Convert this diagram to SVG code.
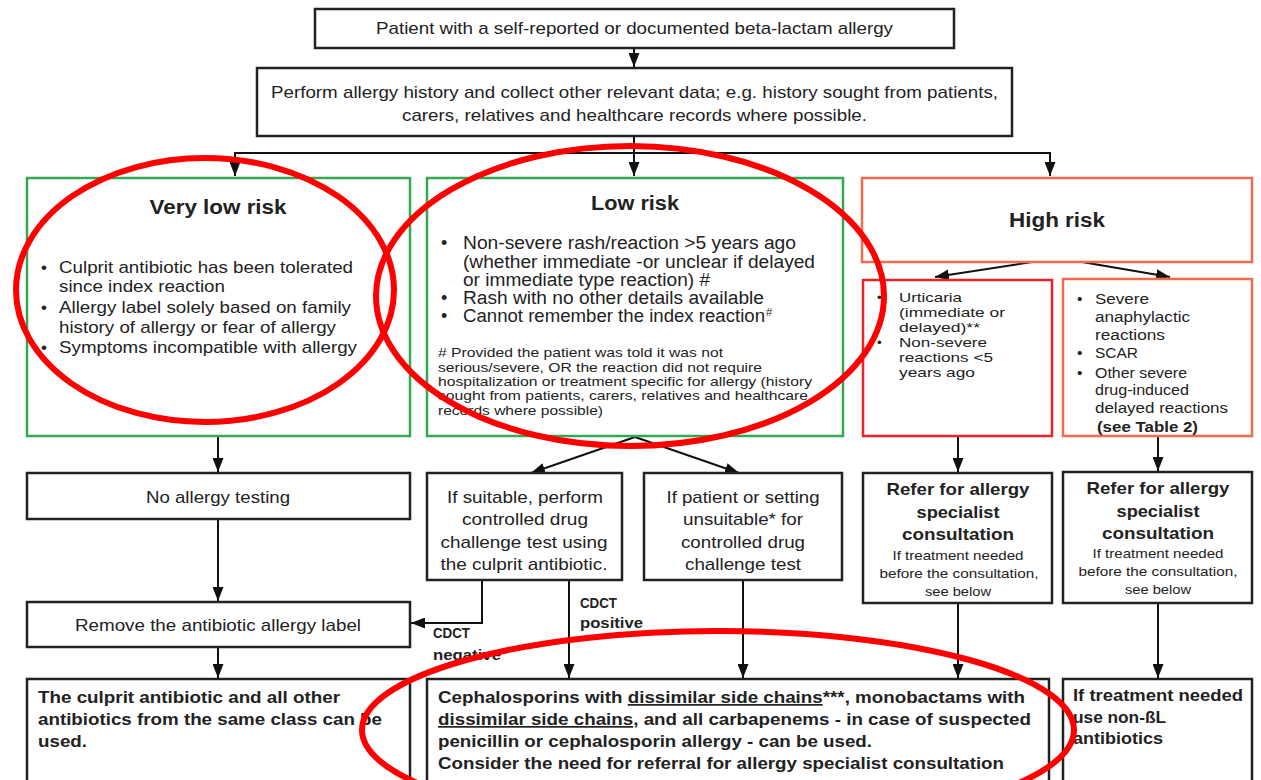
<svg xmlns="http://www.w3.org/2000/svg" width="1261" height="780" viewBox="0 0 1261 780">
<defs>
<marker id="arr" markerUnits="userSpaceOnUse" markerWidth="14" markerHeight="11" viewBox="0 0 14 11" refX="14" refY="5.5" orient="auto">
<path d="M0,0 L14,5.5 L0,11 z" fill="#111"/>
</marker>
<style>
text{font-family:"Liberation Sans",Arial,sans-serif;fill:#222;}
.box{fill:#fff;stroke:#222;stroke-width:2.5;}
.green{fill:#fff;stroke:#34a853;stroke-width:2.5;}
.orange{fill:#fff;stroke:#f26a4f;stroke-width:2.5;}
.red{fill:#fff;stroke:#e8232a;stroke-width:2.5;}
.c{text-anchor:middle;}
.b{font-weight:bold;}
.t17{font-size:17px;}
.t18{font-size:18px;}
.t20{font-size:20px;font-weight:bold;}
.t155{font-size:15.5px;}
.t135{font-size:13.5px;}
.u14{font-size:13.5px;}
.t13{font-size:13px;}
.t14{font-size:14.5px;font-weight:bold;}
.conn{stroke:#111;stroke-width:2;fill:none;}
.ell{fill:none;stroke:#ff0000;stroke-width:6;}
.u{text-decoration:underline;}
</style>
</defs>

<g id="connectors">
<line class="conn" x1="634" y1="48" x2="634" y2="67" marker-end="url(#arr)"/>
<line class="conn" x1="634" y1="136" x2="634" y2="176" marker-end="url(#arr)"/>
<polyline class="conn" points="235,176 235,153 1050,153 1050,176" marker-end="url(#arr)"/>
<line class="conn" x1="235" y1="153" x2="235" y2="176" marker-end="url(#arr)"/>
<line class="conn" x1="1032" y1="262" x2="935" y2="277" marker-end="url(#arr)"/>
<line class="conn" x1="1082" y1="262" x2="1170" y2="277" marker-end="url(#arr)"/>
<line class="conn" x1="218" y1="436" x2="218" y2="472" marker-end="url(#arr)"/>
<line class="conn" x1="218" y1="519" x2="218" y2="601" marker-end="url(#arr)"/>
<line class="conn" x1="218" y1="647" x2="218" y2="678" marker-end="url(#arr)"/>
<line class="conn" x1="635" y1="437" x2="531" y2="473" marker-end="url(#arr)"/>
<line class="conn" x1="635" y1="437" x2="739" y2="473" marker-end="url(#arr)"/>
<polyline class="conn" points="482,580 482,623 411,623" marker-end="url(#arr)"/>
<line class="conn" x1="569" y1="580" x2="569" y2="678" marker-end="url(#arr)"/>
<line class="conn" x1="743" y1="580" x2="743" y2="678" marker-end="url(#arr)"/>
<line class="conn" x1="958" y1="436" x2="958" y2="472" marker-end="url(#arr)"/>
<line class="conn" x1="1158" y1="436" x2="1158" y2="471" marker-end="url(#arr)"/>
<line class="conn" x1="958" y1="603" x2="958" y2="678" marker-end="url(#arr)"/>
<line class="conn" x1="1158" y1="603" x2="1158" y2="678" marker-end="url(#arr)"/>
<text class="t14" x="580" y="608" textLength="37" lengthAdjust="spacingAndGlyphs">CDCT</text>
<text class="t14" x="580" y="628" textLength="63" lengthAdjust="spacingAndGlyphs">positive</text>
<text class="t14" x="433" y="638" textLength="37" lengthAdjust="spacingAndGlyphs">CDCT</text>
<text class="t14" x="433" y="660" textLength="68" lengthAdjust="spacingAndGlyphs">negative</text>
</g>

<g id="start">
<rect class="box" x="315" y="9" width="639" height="39"/>
<text class="t17 c" x="634.5" y="34" textLength="517" lengthAdjust="spacingAndGlyphs">Patient with a self-reported or documented beta-lactam allergy</text>
</g>

<g id="history">
<rect class="box" x="257" y="68" width="755" height="68"/>
<text class="t17 c" x="634.5" y="98" textLength="727" lengthAdjust="spacingAndGlyphs">Perform allergy history and collect other relevant data; e.g. history sought from patients,</text>
<text class="t17 c" x="634.5" y="121" textLength="465" lengthAdjust="spacingAndGlyphs">carers, relatives and healthcare records where possible.</text>
</g>

<g id="very-low-risk">
<rect class="green" x="27" y="178" width="383" height="258"/>
<text class="t20 c" x="218" y="214" textLength="137" lengthAdjust="spacingAndGlyphs">Very low risk</text>
<text class="t17" x="41" y="273">•</text>
<text class="t17" x="59" y="273" textLength="294" lengthAdjust="spacingAndGlyphs">Culprit antibiotic has been tolerated</text>
<text class="t17" x="59" y="292" textLength="166" lengthAdjust="spacingAndGlyphs">since index reaction</text>
<text class="t17" x="41" y="313">•</text>
<text class="t17" x="59" y="313" textLength="292" lengthAdjust="spacingAndGlyphs">Allergy label solely based on family</text>
<text class="t17" x="59" y="333" textLength="277" lengthAdjust="spacingAndGlyphs">history of allergy or fear of allergy</text>
<text class="t17" x="41" y="353">•</text>
<text class="t17" x="59" y="353" textLength="298" lengthAdjust="spacingAndGlyphs">Symptoms incompatible with allergy</text>
</g>

<g id="low-risk">
<rect class="green" x="427" y="178" width="416" height="258"/>
<text class="t20 c" x="635" y="210" textLength="88" lengthAdjust="spacingAndGlyphs">Low risk</text>
<text class="t18" x="441" y="249">•</text>
<text class="t18" x="463" y="249" textLength="333" lengthAdjust="spacingAndGlyphs">Non-severe rash/reaction &gt;5 years ago</text>
<text class="t18" x="463" y="268" textLength="352" lengthAdjust="spacingAndGlyphs">(whether immediate -or unclear if delayed</text>
<text class="t18" x="463" y="286" textLength="247" lengthAdjust="spacingAndGlyphs">or immediate type reaction) #</text>
<text class="t18" x="441" y="304">•</text>
<text class="t18" x="463" y="304" textLength="301" lengthAdjust="spacingAndGlyphs">Rash with no other details available</text>
<text class="t18" x="441" y="322">•</text>
<text class="t18" x="463" y="322" textLength="302" lengthAdjust="spacingAndGlyphs">Cannot remember the index reaction</text>
<text x="766" y="316" style="font-size:11px">#</text>
<text class="t135" x="438" y="357" textLength="285" lengthAdjust="spacingAndGlyphs"># Provided the patient was told it was not</text>
<text class="t135" x="438" y="372" textLength="324" lengthAdjust="spacingAndGlyphs">serious/severe, OR the reaction did not require</text>
<text class="t135" x="438" y="386" textLength="374" lengthAdjust="spacingAndGlyphs">hospitalization or treatment specific for allergy (history</text>
<text class="t135" x="438" y="400" textLength="370" lengthAdjust="spacingAndGlyphs">sought from patients, carers, relatives and healthcare</text>
<text class="t135" x="438" y="415" textLength="165" lengthAdjust="spacingAndGlyphs">records where possible)</text>
</g>

<g id="high-risk">
<rect class="orange" x="862" y="178" width="390" height="84"/>
<text class="t20 c" x="1057" y="227" textLength="96" lengthAdjust="spacingAndGlyphs">High risk</text>
</g>

<g id="urticaria">
<rect class="red" x="863" y="280" width="189" height="156"/>
<text class="u14" x="877" y="302">•</text>
<text class="u14" x="899" y="302" textLength="63" lengthAdjust="spacingAndGlyphs">Urticaria</text>
<text class="u14" x="899" y="317" textLength="106" lengthAdjust="spacingAndGlyphs">(immediate or</text>
<text class="u14" x="899" y="332" textLength="81" lengthAdjust="spacingAndGlyphs">delayed)**</text>
<text class="u14" x="877" y="347">•</text>
<text class="u14" x="899" y="347" textLength="88" lengthAdjust="spacingAndGlyphs">Non-severe</text>
<text class="u14" x="899" y="362" textLength="94" lengthAdjust="spacingAndGlyphs">reactions &lt;5</text>
<text class="u14" x="899" y="377" textLength="76" lengthAdjust="spacingAndGlyphs">years ago</text>
</g>

<g id="severe">
<rect class="orange" x="1063" y="279" width="189" height="157"/>
<text class="t155" x="1077" y="304">•</text>
<text class="t155" x="1095" y="304" textLength="54" lengthAdjust="spacingAndGlyphs">Severe</text>
<text class="t155" x="1095" y="322" textLength="95" lengthAdjust="spacingAndGlyphs">anaphylactic</text>
<text class="t155" x="1095" y="340" textLength="70" lengthAdjust="spacingAndGlyphs">reactions</text>
<text class="t155" x="1077" y="358">•</text>
<text class="t155" x="1095" y="358" textLength="43" lengthAdjust="spacingAndGlyphs">SCAR</text>
<text class="t155" x="1077" y="378">•</text>
<text class="t155" x="1095" y="378" textLength="92" lengthAdjust="spacingAndGlyphs">Other severe</text>
<text class="t155" x="1095" y="395" textLength="94" lengthAdjust="spacingAndGlyphs">drug-induced</text>
<text class="t155" x="1095" y="413" textLength="133" lengthAdjust="spacingAndGlyphs">delayed reactions</text>
<text class="t155 b" x="1097" y="432" textLength="101" lengthAdjust="spacingAndGlyphs">(see Table 2)</text>
</g>

<g id="no-testing">
<rect class="box" x="27" y="473" width="383" height="46"/>
<text class="t17 c" x="218" y="503" textLength="144" lengthAdjust="spacingAndGlyphs">No allergy testing</text>
</g>

<g id="remove-label">
<rect class="box" x="27" y="602" width="383" height="45"/>
<text class="t17 c" x="218" y="631" textLength="286" lengthAdjust="spacingAndGlyphs">Remove the antibiotic allergy label</text>
</g>

<g id="cdct-suitable">
<rect class="box" x="427" y="473" width="195" height="107"/>
<text class="t17 c" x="525" y="503" textLength="156" lengthAdjust="spacingAndGlyphs">If suitable, perform</text>
<text class="t17 c" x="525" y="525" textLength="126" lengthAdjust="spacingAndGlyphs">controlled drug</text>
<text class="t17 c" x="524" y="548" textLength="167" lengthAdjust="spacingAndGlyphs">challenge test using</text>
<text class="t17 c" x="524" y="570" textLength="167" lengthAdjust="spacingAndGlyphs">the culprit antibiotic.</text>
</g>

<g id="cdct-unsuitable">
<rect class="box" x="644" y="473" width="198" height="107"/>
<text class="t17 c" x="743" y="503" textLength="153" lengthAdjust="spacingAndGlyphs">If patient or setting</text>
<text class="t17 c" x="743" y="525" textLength="120" lengthAdjust="spacingAndGlyphs">unsuitable* for</text>
<text class="t17 c" x="743" y="548" textLength="124" lengthAdjust="spacingAndGlyphs">controlled drug</text>
<text class="t17 c" x="743" y="570" textLength="116" lengthAdjust="spacingAndGlyphs">challenge test</text>
</g>

<g id="refer-1">
<rect class="box" x="863" y="473" width="189" height="130"/>
<text class="t17 b c" x="958" y="495" textLength="143" lengthAdjust="spacingAndGlyphs">Refer for allergy</text>
<text class="t17 b c" x="958" y="518" textLength="83" lengthAdjust="spacingAndGlyphs">specialist</text>
<text class="t17 b c" x="958" y="540" textLength="112" lengthAdjust="spacingAndGlyphs">consultation</text>
<text class="t13 c" x="958" y="560" textLength="131" lengthAdjust="spacingAndGlyphs">If treatment needed</text>
<text class="t13 c" x="959" y="578" textLength="159" lengthAdjust="spacingAndGlyphs">before the consultation,</text>
<text class="t13 c" x="958" y="596" textLength="66" lengthAdjust="spacingAndGlyphs">see below</text>
</g>

<g id="refer-2">
<rect class="box" x="1063" y="472" width="189" height="131"/>
<text class="t17 b c" x="1158" y="494" textLength="143" lengthAdjust="spacingAndGlyphs">Refer for allergy</text>
<text class="t17 b c" x="1158" y="517" textLength="83" lengthAdjust="spacingAndGlyphs">specialist</text>
<text class="t17 b c" x="1158" y="539" textLength="112" lengthAdjust="spacingAndGlyphs">consultation</text>
<text class="t13 c" x="1158" y="558" textLength="131" lengthAdjust="spacingAndGlyphs">If treatment needed</text>
<text class="t13 c" x="1158" y="576" textLength="159" lengthAdjust="spacingAndGlyphs">before the consultation,</text>
<text class="t13 c" x="1158" y="594" textLength="66" lengthAdjust="spacingAndGlyphs">see below</text>
</g>

<g id="outcome-same-class">
<rect class="box" x="27" y="679" width="383" height="110"/>
<text class="t17 b" x="38" y="703" textLength="302" lengthAdjust="spacingAndGlyphs">The culprit antibiotic and all other</text>
<text class="t17 b" x="38" y="725" textLength="344" lengthAdjust="spacingAndGlyphs">antibiotics from the same class can be</text>
<text class="t17 b" x="38" y="747" textLength="49" lengthAdjust="spacingAndGlyphs">used.</text>
</g>

<g id="outcome-alternatives">
<rect class="box" x="427" y="679" width="622" height="110"/>
<text class="t17 b" x="438" y="703" textLength="587" lengthAdjust="spacingAndGlyphs">Cephalosporins with <tspan class="u">dissimilar side chains</tspan>***, monobactams with</text>
<text class="t17 b" x="438" y="725" textLength="593" lengthAdjust="spacingAndGlyphs"><tspan class="u">dissimilar side chains</tspan>, and all carbapenems - in case of suspected</text>
<text class="t17 b" x="438" y="747" textLength="434" lengthAdjust="spacingAndGlyphs">penicillin or cephalosporin allergy - can be used.</text>
<text class="t17 b" x="438" y="769" textLength="566" lengthAdjust="spacingAndGlyphs">Consider the need for referral for allergy specialist consultation</text>
</g>

<g id="outcome-non-bl">
<rect class="box" x="1063" y="679" width="189" height="110"/>
<text class="t17 b" x="1073" y="701" textLength="170" lengthAdjust="spacingAndGlyphs">If treatment needed</text>
<text class="t17 b" x="1073" y="723" textLength="93" lengthAdjust="spacingAndGlyphs">use non-ßL</text>
<text class="t17 b" x="1073" y="744" textLength="90" lengthAdjust="spacingAndGlyphs">antibiotics</text>
</g>

<g id="annotations">
<ellipse class="ell" cx="205" cy="290" rx="189" ry="132"/>
<ellipse class="ell" cx="630" cy="296" rx="254" ry="150"/>
<ellipse class="ell" cx="718" cy="730" rx="356" ry="99"/>
</g>
</svg>
